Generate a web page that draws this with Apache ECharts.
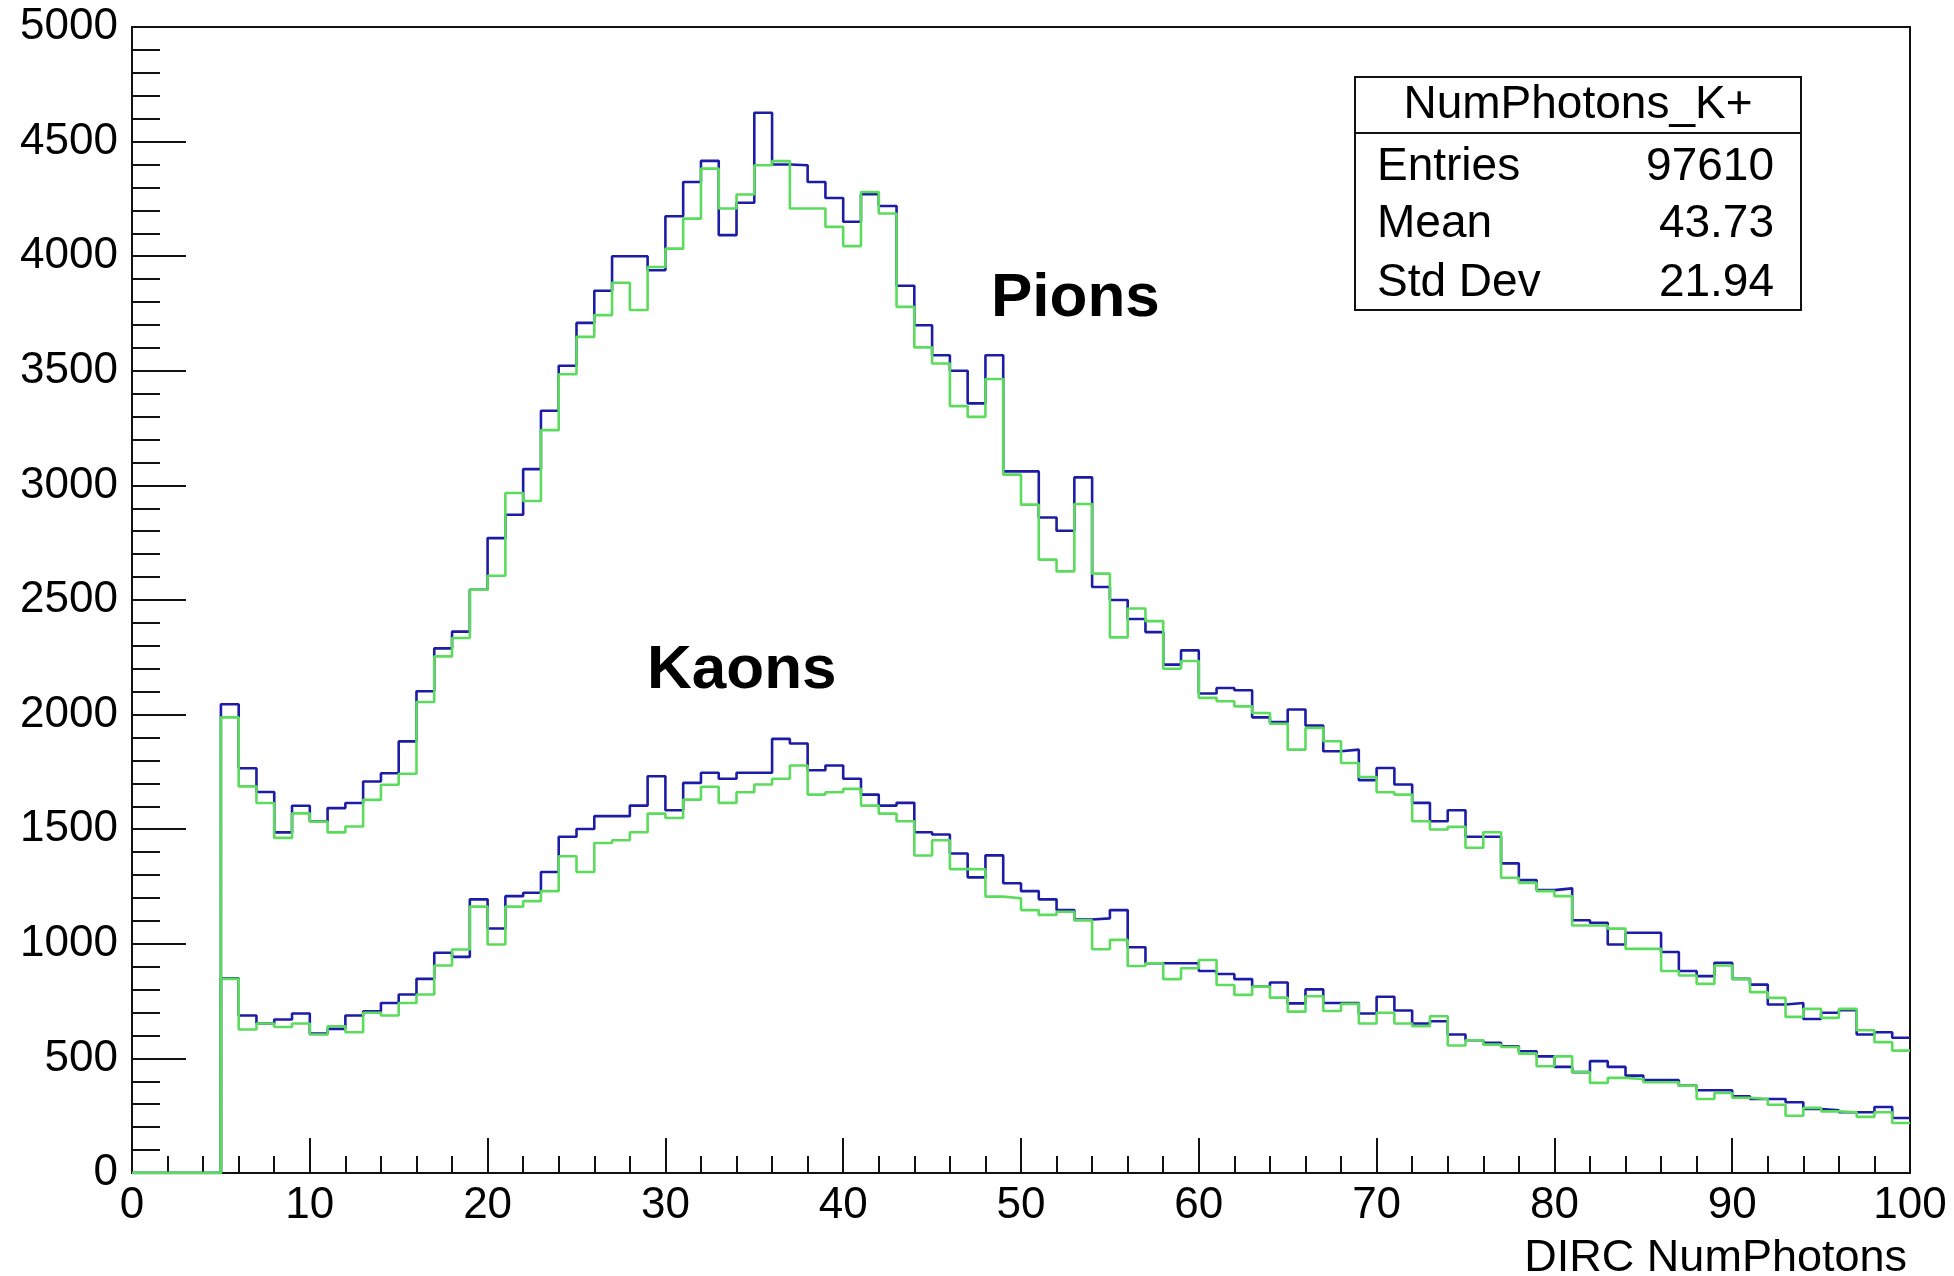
<!DOCTYPE html>
<html>
<head>
<meta charset="utf-8">
<style>
  html, body { margin: 0; padding: 0; background: #ffffff; }
  #chart { width: 1954px; height: 1276px; }
</style>
<script src="https://cdn.jsdelivr.net/npm/echarts@6/dist/echarts.min.js"></script>
</head>
<body>
<div id="chart"></div>
<script>
// Histogram binning: 100 bins of width 1 from 0 to 100
const binLow = 0;
const binWidth = 1;

// Pions (upper pair of histograms)
const pionBlue = [0,0,0,0,0,
  2045,1766,1662,1486,1602,1535,1592,1614,1708,1744,1883,2102,2289,2362,2545,
  2770,2872,3071,3326,3522,3709,3849,4000,4000,3939,
  4174,4324,4416,4092,4233,4626,4400,4397,4324,4254,
  4150,4270,4219,3871,3699,3568,3500,3358,3568,3061,
  3061,2860,2802,3035,2557,2500,2417,2360,2218,2280,
  2092,2116,2106,1988,1967,2022,1952,1840,1847,1714,
  1767,1695,1615,1535,1583,1467,1467,1351,1278,1234,
  1242,1103,1092,997,1048,1048,964,881,859,917,
  847,822,735,742,672,699,710,604,614,590];
const pionGreen = [0,0,0,0,0,
  1988,1687,1614,1462,1569,1533,1486,1512,1628,1694,1742,2055,2254,2334,2545,
  2606,2967,2932,3241,3485,3648,3743,3884,3765,3953,
  4033,4164,4382,4208,4269,4397,4415,4208,4208,4128,
  4044,4280,4186,3779,3602,3532,3346,3299,3464,3047,
  2916,2676,2625,2919,2615,2337,2463,2408,2200,2234,
  2073,2058,2036,2007,1960,1847,1942,1884,1789,1728,
  1661,1651,1535,1499,1510,1419,1487,1288,1266,1230,
  1208,1080,1080,1066,978,978,881,862,825,905,
  847,789,764,681,716,677,716,623,571,534];

// Kaons (lower pair of histograms)
const kaonBlue = [0,0,0,0,0,
  850,687,652,670,696,608,629,687,706,742,779,847,961,943,1194,
  1067,1208,1223,1313,1467,1501,1557,1557,1603,1731,
  1583,1702,1746,1720,1746,1746,1894,1874,1757,1778,
  1720,1651,1603,1615,1487,1477,1394,1290,1386,1264,
  1230,1194,1147,1106,1111,1147,985,915,915,915,
  881,868,846,813,831,740,801,742,742,696,
  769,709,652,662,604,579,568,553,531,509,
  463,440,488,463,425,405,405,381,361,361,
  335,323,323,309,279,274,265,265,288,240];
const kaonGreen = [0,0,0,0,0,
  847,626,652,637,652,604,640,614,699,687,742,779,905,975,1162,
  997,1162,1186,1230,1382,1313,1440,1452,1487,1568,
  1549,1629,1685,1615,1661,1695,1720,1778,1651,1661,
  1676,1603,1568,1535,1385,1452,1326,1325,1206,1199,
  1147,1126,1140,1102,976,1017,903,915,846,893,
  929,820,777,813,765,704,771,707,738,652,
  699,652,640,684,556,579,560,550,521,466,
  509,440,393,415,410,396,396,381,323,349,
  328,323,298,250,284,269,265,245,265,218];

// Axis settings / texts
const xMin = 0, xMax = 100, xInterval = 10;
const yMin = 0, yMax = 5000, yInterval = 500;
const xTitle = 'DIRC NumPhotons';
const statsTitle = 'NumPhotons_K+';
const statsLabels = ['Entries', 'Mean', 'Std Dev'];
const statsValues = ['97610', '43.73', '21.94'];
const annotations = ['Pions', 'Kaons'];

const FONT = '"Liberation Sans", Arial, Helvetica, sans-serif';
const BLUE = '#1c1ca6';
const GREEN = '#5cdc5c';

function toSteps(counts) {
  const pts = counts.map((v, i) => [binLow + i * binWidth, v]);
  pts.push([binLow + counts.length * binWidth, counts[counts.length - 1]]);
  return pts;
}

function histSeries(name, counts, color, z) {
  return {
    name: name,
    type: 'line',
    step: 'end',
    data: toSteps(counts),
    showSymbol: false,
    symbol: 'none',
    z: z,
    lineStyle: { color: color, width: 2.6 },
    emphasis: { disabled: true },
    animation: false
  };
}

const chart = echarts.init(document.getElementById('chart'), null, { renderer: 'canvas' });

const option = {
  backgroundColor: '#ffffff',
  animation: false,
  grid: {
    left: 132, right: 44, top: 27, bottom: 103,
    show: true, borderColor: '#111', borderWidth: 2, backgroundColor: 'transparent'
  },
  xAxis: {
    type: 'value',
    min: xMin, max: xMax, interval: xInterval,
    axisLine: { show: true, onZero: false, lineStyle: { color: '#111', width: 2 } },
    axisTick: { show: true, inside: true, length: 35, lineStyle: { color: '#111', width: 2 } },
    minorTick: { show: true, splitNumber: 5, length: 17, lineStyle: { color: '#111', width: 2 } },
    splitLine: { show: false },
    axisLabel: { show: true, margin: 11, color: '#000', fontSize: 44, fontFamily: FONT, showMaxLabel: true, showMinLabel: true,
      formatter: v => String(v) }
  },
  yAxis: {
    type: 'value',
    min: yMin, max: yMax, interval: yInterval,
    axisLine: { show: true, onZero: false, lineStyle: { color: '#111', width: 2 } },
    axisTick: { show: true, inside: true, length: 54, lineStyle: { color: '#111', width: 2 } },
    minorTick: { show: true, splitNumber: 5, length: 28, lineStyle: { color: '#111', width: 2 } },
    splitLine: { show: false },
    axisLabel: { show: true, margin: 14, color: '#000', fontSize: 44, fontFamily: FONT, showMaxLabel: true, showMinLabel: true,
      formatter: v => String(v) }
  },
  series: [
    histSeries('Pions (blue)', pionBlue, BLUE, 2),
    histSeries('Kaons (blue)', kaonBlue, BLUE, 2),
    histSeries('Pions (green)', pionGreen, GREEN, 3),
    histSeries('Kaons (green)', kaonGreen, GREEN, 3)
  ],
  graphic: [
    { type: 'text', z: 10, style: { text: xTitle, x: 1907, y: 1259, align: 'right', verticalAlign: 'middle', fill: '#000', font: '45px ' + FONT } },
    { type: 'text', z: 10, style: { text: annotations[0], x: 991, y: 299, align: 'left', verticalAlign: 'middle', fill: '#000', font: 'bold 62px ' + FONT } },
    { type: 'text', z: 10, style: { text: annotations[1], x: 647, y: 671, align: 'left', verticalAlign: 'middle', fill: '#000', font: 'bold 62px ' + FONT } },
    { type: 'rect', z: 10, shape: { x: 1355, y: 77, width: 446, height: 233 }, style: { fill: '#ffffff', stroke: '#111', lineWidth: 2 } },
    { type: 'line', z: 11, shape: { x1: 1355, y1: 133, x2: 1801, y2: 133 }, style: { stroke: '#111', lineWidth: 2 } },
    { type: 'text', z: 12, style: { text: statsTitle, x: 1578, y: 105, align: 'center', verticalAlign: 'middle', fill: '#000', font: '46px ' + FONT } },
    { type: 'text', z: 12, style: { text: statsLabels[0], x: 1377, y: 167, align: 'left', verticalAlign: 'middle', fill: '#000', font: '46px ' + FONT } },
    { type: 'text', z: 12, style: { text: statsLabels[1], x: 1377, y: 224, align: 'left', verticalAlign: 'middle', fill: '#000', font: '46px ' + FONT } },
    { type: 'text', z: 12, style: { text: statsLabels[2], x: 1377, y: 283, align: 'left', verticalAlign: 'middle', fill: '#000', font: '46px ' + FONT } },
    { type: 'text', z: 12, style: { text: statsValues[0], x: 1774, y: 167, align: 'right', verticalAlign: 'middle', fill: '#000', font: '46px ' + FONT } },
    { type: 'text', z: 12, style: { text: statsValues[1], x: 1774, y: 224, align: 'right', verticalAlign: 'middle', fill: '#000', font: '46px ' + FONT } },
    { type: 'text', z: 12, style: { text: statsValues[2], x: 1774, y: 283, align: 'right', verticalAlign: 'middle', fill: '#000', font: '46px ' + FONT } }
  ]
};

chart.setOption(option);
</script>
</body>
</html>
